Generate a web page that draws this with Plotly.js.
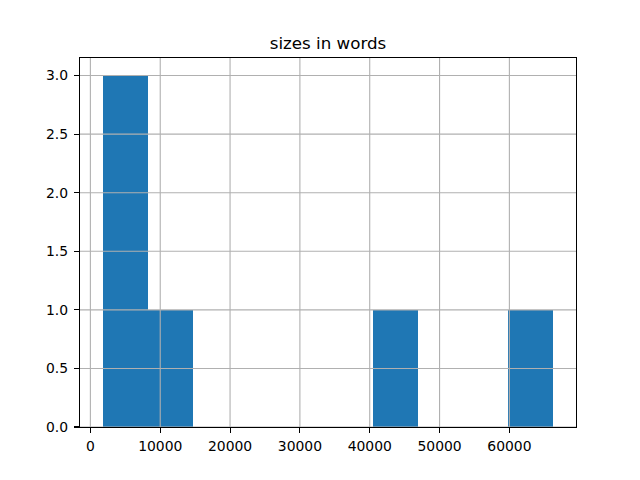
<!DOCTYPE html>
<html>
<head>
<meta charset="utf-8">
<script src="https://cdn.plot.ly/plotly-3.0.1.min.js"></script>
<style>html,body{margin:0;padding:0;background:#fff}#chart{width:640px;height:480px}</style>
</head>
<body>
<div id="chart"></div>
<script>
// word counts of the documents (estimated from the histogram)
const sizes = [1740, 4200, 6100, 11800, 43500, 66310];
const nBins = 10;
const xTickVals = [0, 10000, 20000, 30000, 40000, 50000, 60000];
const yTickVals = [0, 0.5, 1.0, 1.5, 2.0, 2.5, 3.0];
const titleText = "sizes in words";

// histogram like matplotlib: 10 equal bins between min and max
const lo = Math.min(...sizes), hi = Math.max(...sizes);
const w = (hi - lo) / nBins;
const counts = new Array(nBins).fill(0);
sizes.forEach(v => { let i = Math.floor((v - lo) / w); if (i >= nBins) i = nBins - 1; counts[i]++; });
const centers = counts.map((_, i) => lo + w * (i + 0.5));

const maxCount = Math.max(...counts);
const xr = [lo - 0.05 * (hi - lo), hi + 0.05 * (hi - lo)];
const yr = [0, maxCount * 1.05];

const gridColor = '#b0b0b0';
const shapes = [];
xTickVals.forEach(v => shapes.push({type:'line', xref:'x', yref:'paper', x0:v, x1:v, y0:0, y1:1, layer:'above', line:{color:gridColor, width:1.1}}));
yTickVals.forEach(v => shapes.push({type:'line', xref:'paper', yref:'y', x0:0, x1:1, y0:v, y1:v, layer:'above', line:{color:gridColor, width:1.1}}));

const trace = {
  type: 'bar', x: centers, y: counts, width: w,
  marker: {color: '#1f77b4', line: {width: 0}},
  hoverinfo: 'x+y'
};

const font = {family: 'DejaVu Sans', size: 13.9, color: '#000'};
const layout = {
  width: 640, height: 480,
  margin: {l: 80, r: 64, t: 58, b: 53, pad: 0},
  paper_bgcolor: '#fff', plot_bgcolor: '#fff',
  font: font,
  showlegend: false,
  title: {text: titleText, font: {family: 'DejaVu Sans', size: 16.7, color: '#000'},
          x: 0.5, xref: 'paper', xanchor: 'center', y: 1, yref: 'paper', yanchor: 'bottom', pad: {b: 9}},
  xaxis: {range: xr, tickvals: xTickVals, ticktext: xTickVals.map(String), showgrid: false, zeroline: false,
          showline: true, mirror: true, linecolor: '#000', linewidth: 1.1,
          ticks: 'outside', ticklen: 5, tickwidth: 1.1, tickcolor: '#000', tickfont: font, layer: 'above traces',
          ticklabelstandoff: 1},
  yaxis: {range: yr, tickvals: yTickVals, ticktext: yTickVals.map(v => v.toFixed(1)), showgrid: false, zeroline: false,
          showline: true, mirror: true, linecolor: '#000', linewidth: 1.1,
          ticks: 'outside', ticklen: 5, tickwidth: 1.1, tickcolor: '#000', tickfont: font, layer: 'above traces',
          ticklabelstandoff: 3},
  shapes: shapes,
  bargap: 0
};
Plotly.newPlot('chart', [trace], layout, {staticPlot: true, displayModeBar: false});
</script>
</body>
</html>
